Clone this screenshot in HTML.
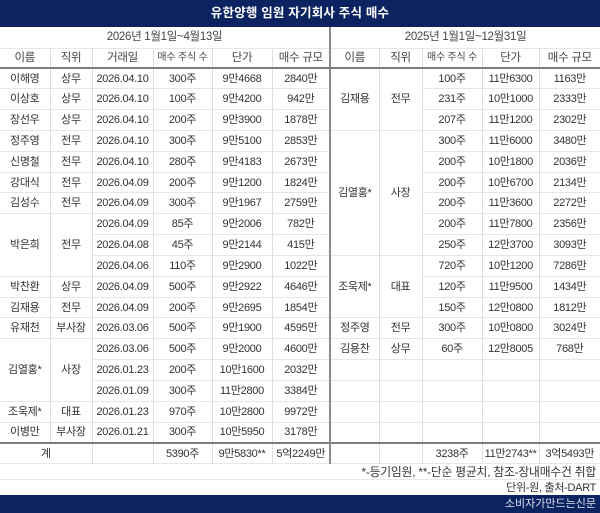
<!DOCTYPE html>
<html>
<head>
<meta charset="utf-8">
<style>
html,body{margin:0;padding:0;background:#fff;}
body{width:600px;height:513px;overflow:hidden;font-family:"Liberation Sans","Noto Sans CJK KR",sans-serif;color:#333;}
.title{height:27px;background:#0b2461;color:#fff;font-weight:bold;font-size:12.5px;text-align:center;line-height:27px;letter-spacing:0.2px;}
table{border-collapse:collapse;table-layout:fixed;width:600px;}
td{padding:0;text-align:center;font-size:11px;line-height:14px;border-right:1px solid #dedede;border-bottom:1px solid #e6e6e6;white-space:nowrap;overflow:hidden;letter-spacing:-0.3px;}
td.last{border-right:none;}
td.m{border-left:2px solid #8c8c8c;}
tr.h1{height:21px;}
tr.h1 td{color:#444;font-size:11.5px;}
tr.h2{height:20px;}
tr.h2 td{border-bottom:2px solid #7c7c7c;color:#444;font-size:11.5px;}
tr.h2 td.s{font-size:10px;letter-spacing:-0.2px;}
tr.d{height:20.83px;}
tr.t{height:21px;}
tr.t td{border-top:2px solid #7c7c7c;}
tr.f1{height:16px;}
tr.f2{height:15px;}
tr.f1 td,tr.f2 td{text-align:right;padding-right:4px;border-right:none;font-size:11px;color:#333;}
tr.f1 td{font-size:11.8px;letter-spacing:-0.2px;}
.foot{height:18px;background:#0b2461;color:#dde0ea;font-size:11px;text-align:right;line-height:18px;padding-right:4px;box-sizing:border-box;}
</style>
</head>
<body>
<div class="title">유한양행 임원 자기회사 주식 매수</div>
<table>
<colgroup>
<col style="width:50px"><col style="width:42px"><col style="width:61px"><col style="width:59px"><col style="width:60px"><col style="width:58px">
<col style="width:49px"><col style="width:43px"><col style="width:60px"><col style="width:57px"><col style="width:61px">
</colgroup>
<tr class="h1"><td colspan="6" style="border-right:none">2026년 1월1일~4월13일</td><td colspan="5" class="m last">2025년 1월1일~12월31일</td></tr>
<tr class="h2"><td>이름</td><td>직위</td><td>거래일</td><td class="s">매수 주식 수</td><td>단가</td><td>매수 규모</td><td class="m">이름</td><td>직위</td><td class="s">매수 주식 수</td><td>단가</td><td class="last">매수 규모</td></tr>

<tr class="d"><td>이해영</td><td>상무</td><td>2026.04.10</td><td>300주</td><td>9만4668</td><td>2840만</td><td class="m" rowspan="3">김재용</td><td rowspan="3">전무</td><td>100주</td><td>11만6300</td><td class="last">1163만</td></tr>
<tr class="d"><td>이상호</td><td>상무</td><td>2026.04.10</td><td>100주</td><td>9만4200</td><td>942만</td><td>231주</td><td>10만1000</td><td class="last">2333만</td></tr>
<tr class="d"><td>장선우</td><td>상무</td><td>2026.04.10</td><td>200주</td><td>9만3900</td><td>1878만</td><td>207주</td><td>11만1200</td><td class="last">2302만</td></tr>
<tr class="d"><td>정주영</td><td>전무</td><td>2026.04.10</td><td>300주</td><td>9만5100</td><td>2853만</td><td class="m" rowspan="6">김열홍*</td><td rowspan="6">사장</td><td>300주</td><td>11만6000</td><td class="last">3480만</td></tr>
<tr class="d"><td>신명철</td><td>전무</td><td>2026.04.10</td><td>280주</td><td>9만4183</td><td>2673만</td><td>200주</td><td>10만1800</td><td class="last">2036만</td></tr>
<tr class="d"><td>강대식</td><td>전무</td><td>2026.04.09</td><td>200주</td><td>9만1200</td><td>1824만</td><td>200주</td><td>10만6700</td><td class="last">2134만</td></tr>
<tr class="d"><td>김성수</td><td>전무</td><td>2026.04.09</td><td>300주</td><td>9만1967</td><td>2759만</td><td>200주</td><td>11만3600</td><td class="last">2272만</td></tr>
<tr class="d"><td rowspan="3">박은희</td><td rowspan="3">전무</td><td>2026.04.09</td><td>85주</td><td>9만2006</td><td>782만</td><td>200주</td><td>11만7800</td><td class="last">2356만</td></tr>
<tr class="d"><td>2026.04.08</td><td>45주</td><td>9만2144</td><td>415만</td><td>250주</td><td>12만3700</td><td class="last">3093만</td></tr>
<tr class="d"><td>2026.04.06</td><td>110주</td><td>9만2900</td><td>1022만</td><td class="m" rowspan="3">조욱제*</td><td rowspan="3">대표</td><td>720주</td><td>10만1200</td><td class="last">7286만</td></tr>
<tr class="d"><td>박찬환</td><td>상무</td><td>2026.04.09</td><td>500주</td><td>9만2922</td><td>4646만</td><td>120주</td><td>11만9500</td><td class="last">1434만</td></tr>
<tr class="d"><td>김재용</td><td>전무</td><td>2026.04.09</td><td>200주</td><td>9만2695</td><td>1854만</td><td>150주</td><td>12만0800</td><td class="last">1812만</td></tr>
<tr class="d"><td>유재천</td><td>부사장</td><td>2026.03.06</td><td>500주</td><td>9만1900</td><td>4595만</td><td class="m">정주영</td><td>전무</td><td>300주</td><td>10만0800</td><td class="last">3024만</td></tr>
<tr class="d"><td rowspan="3">김열홍*</td><td rowspan="3">사장</td><td>2026.03.06</td><td>500주</td><td>9만2000</td><td>4600만</td><td class="m">김용찬</td><td>상무</td><td>60주</td><td>12만8005</td><td class="last">768만</td></tr>
<tr class="d"><td>2026.01.23</td><td>200주</td><td>10만1600</td><td>2032만</td><td class="m"></td><td></td><td></td><td></td><td class="last"></td></tr>
<tr class="d"><td>2026.01.09</td><td>300주</td><td>11만2800</td><td>3384만</td><td class="m"></td><td></td><td></td><td></td><td class="last"></td></tr>
<tr class="d"><td>조욱제*</td><td>대표</td><td>2026.01.23</td><td>970주</td><td>10만2800</td><td>9972만</td><td class="m"></td><td></td><td></td><td></td><td class="last"></td></tr>
<tr class="d"><td>이병만</td><td>부사장</td><td>2026.01.21</td><td>300주</td><td>10만5950</td><td>3178만</td><td class="m"></td><td></td><td></td><td></td><td class="last"></td></tr>

<tr class="t"><td colspan="2">계</td><td></td><td>5390주</td><td>9만5830**</td><td>5억2249만</td><td class="m"></td><td></td><td>3238주</td><td>11만2743**</td><td class="last">3억5493만</td></tr>
<tr class="f1"><td colspan="11">*-등기임원, **-단순 평균치, 참조-장내매수건 취합</td></tr>
<tr class="f2"><td colspan="11" style="border-bottom:none">단위-원, 출처-DART</td></tr>
</table>
<div class="foot">소비자가만드는신문</div>
</body>
</html>
